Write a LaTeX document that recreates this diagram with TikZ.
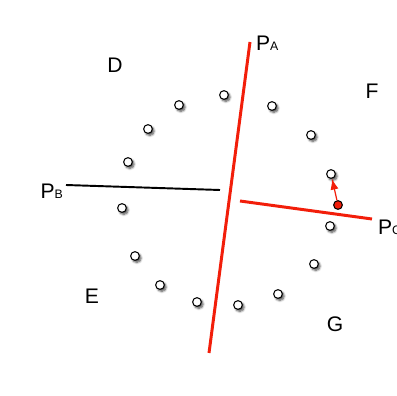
\documentclass[tikz,border=0pt]{standalone}
\usepackage{fontspec}
\setmainfont{Liberation Sans}
\usetikzlibrary{arrows.meta,shadows.blur}
\definecolor{cutred}{RGB}{242,30,10}
\newcommand{\plane}[1]{P{\fontsize{7}{8}\selectfont #1}}

\begin{document}
\begin{tikzpicture}[x=0.02cm,y=-0.02cm,>=Latex,
  every node/.style={font=\fontsize{12}{14}\selectfont},
  pt/.style={circle,draw,fill=white,line width=.6pt,inner sep=0pt,
    minimum size=1.75mm,blur shadow={shadow xshift=1pt,shadow yshift=-1.2pt,
    shadow blur steps=6,shadow blur radius=1.2pt,shadow opacity=70}},
  cut/.style={cutred,line width=1.7pt}]
  \useasboundingbox (0,0) rectangle (397,396);
  % ring of sample points
  \foreach \x/\y [count=\i] in {224/95,179/105,272/106,148/129,311/135,
      128/162,331/174,122/208,330/226,135/256,314/264,160/285,278/294,
      197/302,238/305}
    \node[pt] (p\i) at (\x,\y) {};
  \node[circle,draw,fill=cutred,line width=.6pt,inner sep=0pt,
    minimum size=1.75mm] (q) at (338,205) {};
  % planes
  \coordinate (a1) at (250,42);  \coordinate (a2) at (209,353);
  \coordinate (b1) at (66,185);  \coordinate (b2) at (220,190);
  \coordinate (c1) at (240,201); \coordinate (c2) at (372,219);
  \draw[cut] (a1) -- (a2);
  \draw[line width=1.1pt] (b1) -- (b2);
  \draw[cut] (c1) -- (c2);
  \draw[->,cutred,line width=.7pt] (q) -- (p7);
  \node[anchor=west,inner sep=1pt] (la) at (254,43) {\plane{A}};
  \node[anchor=east,inner sep=1pt] (lb) at (65,191) {\plane{B}};
  \node[anchor=west,inner sep=1pt] (lc) at (376,227) {\plane{C}};
  % regions
  \node (rd) at (115,65) {D};
  \node (rf) at (372,91) {F};
  \node (re) at (92,296) {E};
  \node (rg) at (335,324) {G};
\end{tikzpicture}
\end{document}
